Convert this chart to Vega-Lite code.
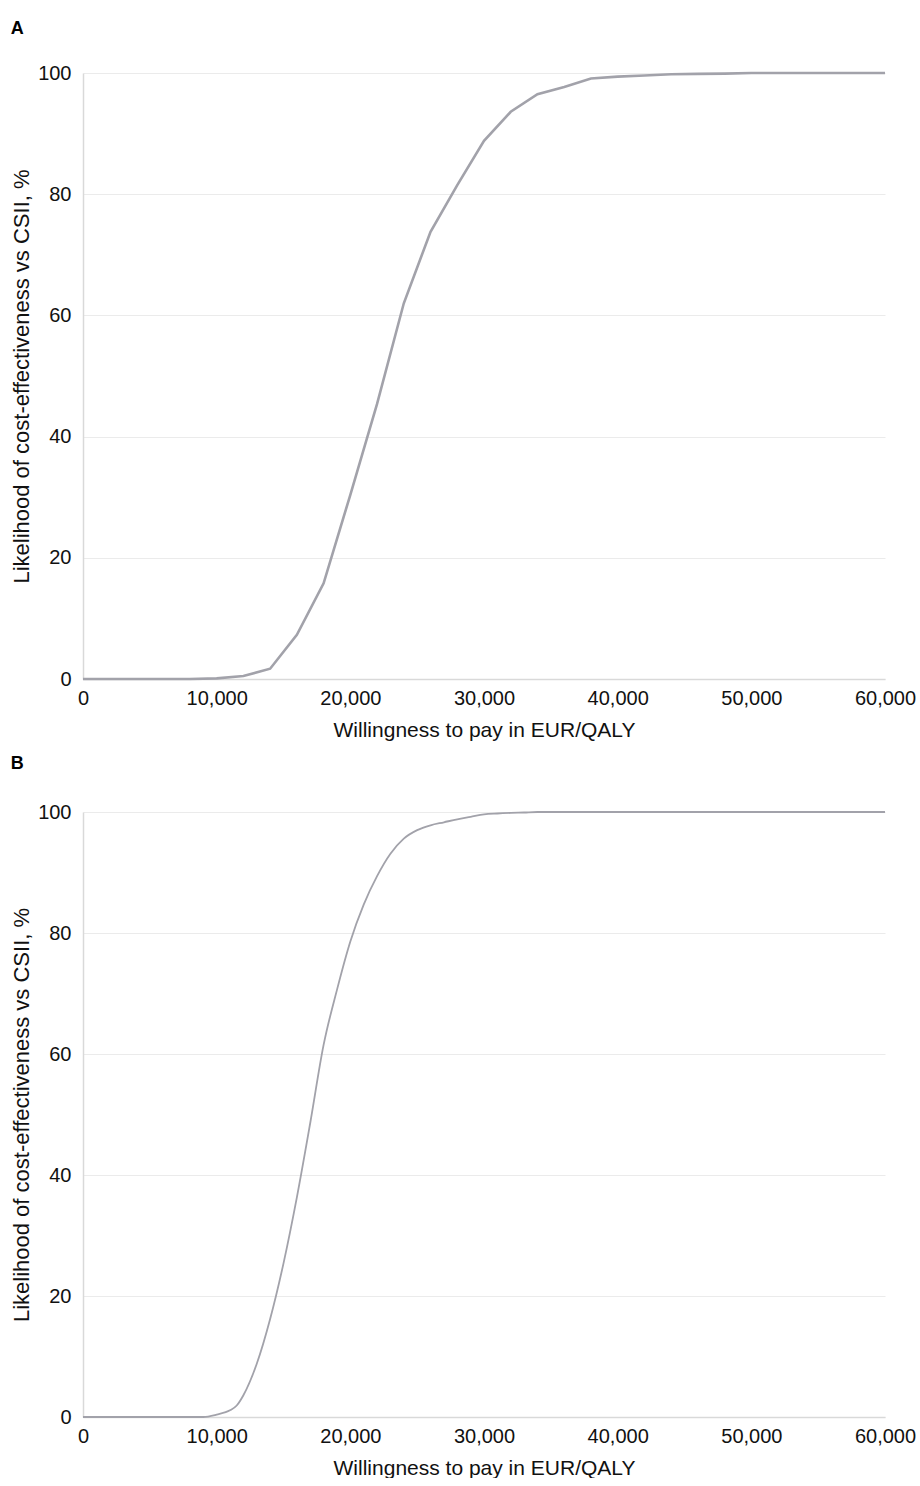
{
  "$schema": "https://vega.github.io/schema/vega-lite/v6.json",
  "background": "white",
  "padding": {"left": 10, "top": 20, "right": 0, "bottom": 0},
  "spacing": 15,
  "config": {
    "font": "Liberation Sans",
    "view": {"stroke": null},
    "title": {"anchor": "start", "frame": "bounds", "fontSize": 18, "fontWeight": "bold", "color": "#000000", "offset": 25, "dx": 0},
    "axis": {
      "labelFont": "Liberation Sans",
      "titleFont": "Liberation Sans",
      "labelFontSize": 20,
      "titleFontSize": 21,
      "titleFontWeight": "normal",
      "labelColor": "#111111",
      "titleColor": "#111111",
      "ticks": false,
      "tickSize": 0,
      "domainColor": "#d9d9d9",
      "domainWidth": 1.5,
      "gridColor": "#ebebeb",
      "gridWidth": 1
    }
  },
  "datasets": {
    "panelA": [
      {"wtp": 0, "pct": 0}, {"wtp": 2000, "pct": 0}, {"wtp": 4000, "pct": 0}, {"wtp": 6000, "pct": 0},
      {"wtp": 8000, "pct": 0}, {"wtp": 10000, "pct": 0.1}, {"wtp": 12000, "pct": 0.5}, {"wtp": 14000, "pct": 1.7},
      {"wtp": 16000, "pct": 7.3}, {"wtp": 18000, "pct": 15.8}, {"wtp": 20000, "pct": 30.4}, {"wtp": 22000, "pct": 45.4},
      {"wtp": 24000, "pct": 62}, {"wtp": 26000, "pct": 73.8}, {"wtp": 28000, "pct": 81.5}, {"wtp": 30000, "pct": 88.8},
      {"wtp": 32000, "pct": 93.6}, {"wtp": 34000, "pct": 96.5}, {"wtp": 36000, "pct": 97.7}, {"wtp": 38000, "pct": 99.1},
      {"wtp": 40000, "pct": 99.4}, {"wtp": 42000, "pct": 99.6}, {"wtp": 44000, "pct": 99.8}, {"wtp": 46000, "pct": 99.85},
      {"wtp": 48000, "pct": 99.9}, {"wtp": 50000, "pct": 100}, {"wtp": 52000, "pct": 100}, {"wtp": 54000, "pct": 100},
      {"wtp": 56000, "pct": 100}, {"wtp": 58000, "pct": 100}, {"wtp": 60000, "pct": 100}
    ],
    "panelB": [
      {"wtp": 0, "pct": 0}, {"wtp": 2000, "pct": 0}, {"wtp": 4000, "pct": 0}, {"wtp": 6000, "pct": 0},
      {"wtp": 8000, "pct": 0}, {"wtp": 9000, "pct": 0}, {"wtp": 10000, "pct": 0.4}, {"wtp": 11000, "pct": 1.1},
      {"wtp": 11500, "pct": 1.9}, {"wtp": 12000, "pct": 3.6}, {"wtp": 13000, "pct": 8.8}, {"wtp": 14000, "pct": 16.2},
      {"wtp": 15000, "pct": 25.4}, {"wtp": 16000, "pct": 36.3}, {"wtp": 17000, "pct": 48.6}, {"wtp": 18000, "pct": 61.5},
      {"wtp": 19000, "pct": 70.6}, {"wtp": 20000, "pct": 78.6}, {"wtp": 21000, "pct": 84.7}, {"wtp": 22000, "pct": 89.4},
      {"wtp": 23000, "pct": 93.1}, {"wtp": 24000, "pct": 95.6}, {"wtp": 25000, "pct": 97.0}, {"wtp": 26000, "pct": 97.8},
      {"wtp": 27000, "pct": 98.3}, {"wtp": 28000, "pct": 98.8}, {"wtp": 29000, "pct": 99.2}, {"wtp": 30000, "pct": 99.6},
      {"wtp": 31000, "pct": 99.75}, {"wtp": 32000, "pct": 99.85}, {"wtp": 33000, "pct": 99.92}, {"wtp": 34000, "pct": 100},
      {"wtp": 40000, "pct": 100}, {"wtp": 50000, "pct": 100}, {"wtp": 60000, "pct": 100}
    ]
  },
  "vconcat": [
    {
      "title": "A",
      "width": 802,
      "height": 606,
      "data": {"name": "panelA"},
      "mark": {"type": "line", "color": "#a2a2aa", "strokeWidth": 2.6, "interpolate": "linear"},
      "encoding": {
        "x": {"field": "wtp", "type": "quantitative", "scale": {"domain": [0, 60000], "nice": false},
              "axis": {"title": "Willingness to pay in EUR/QALY", "values": [0, 10000, 20000, 30000, 40000, 50000, 60000], "format": ",d", "labelFlush": false, "grid": false, "labelPadding": 9, "titlePadding": 11, "labelOverlap": false}},
        "y": {"field": "pct", "type": "quantitative", "scale": {"domain": [0, 100], "nice": false},
              "axis": {"title": "Likelihood of cost-effectiveness vs CSII, %", "titleFontSize": 22, "values": [0, 20, 40, 60, 80, 100], "labelPadding": 12, "titlePadding": 4, "grid": true}}
      }
    },
    {
      "title": {"text": "B", "offset": 29},
      "width": 802,
      "height": 605,
      "data": {"name": "panelB"},
      "mark": {"type": "line", "color": "#a2a2aa", "strokeWidth": 1.8, "interpolate": "monotone"},
      "encoding": {
        "x": {"field": "wtp", "type": "quantitative", "scale": {"domain": [0, 60000], "nice": false},
              "axis": {"title": "Willingness to pay in EUR/QALY", "values": [0, 10000, 20000, 30000, 40000, 50000, 60000], "format": ",d", "labelFlush": false, "grid": false, "labelPadding": 9, "titlePadding": 11, "labelOverlap": false}},
        "y": {"field": "pct", "type": "quantitative", "scale": {"domain": [0, 100], "nice": false},
              "axis": {"title": "Likelihood of cost-effectiveness vs CSII, %", "titleFontSize": 22, "values": [0, 20, 40, 60, 80, 100], "labelPadding": 12, "titlePadding": 4, "grid": true}}
      }
    }
  ]
}
